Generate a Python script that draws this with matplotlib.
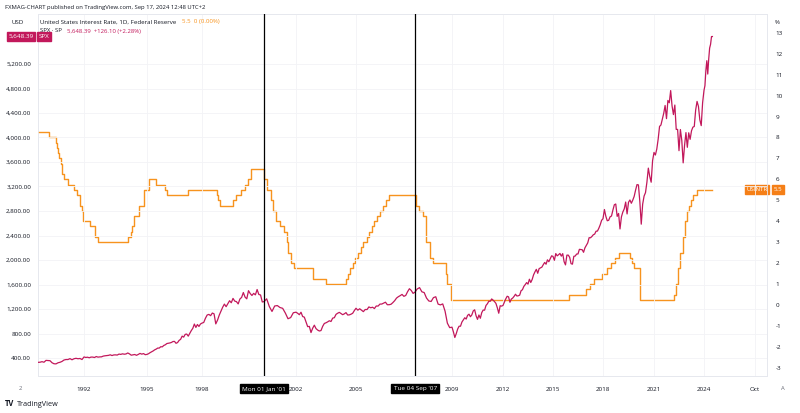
import numpy as np
import pandas as pd
import matplotlib
matplotlib.use("Agg")
import matplotlib.pyplot as plt
from matplotlib.transforms import blended_transform_factory

plt.rcParams["font.family"] = ["Open Sans", "DejaVu Sans"]

# S&P 500 monthly closes, Jan 1990 .. Aug 2024, plus last close Sep 17 2024
spx_close = [
    329, 331, 340, 331, 361, 358, 356, 323, 306, 304, 322, 330,          # 1990
    344, 367, 375, 375, 390, 371, 388, 395, 388, 392, 375, 417,          # 1991
    409, 413, 404, 415, 415, 408, 424, 414, 418, 419, 431, 436,          # 1992
    439, 443, 452, 440, 450, 451, 448, 464, 459, 468, 462, 466,          # 1993
    482, 467, 446, 451, 457, 444, 458, 475, 463, 472, 454, 459,          # 1994
    470, 487, 501, 515, 533, 545, 562, 562, 584, 582, 605, 616,          # 1995
    636, 641, 646, 654, 669, 671, 640, 652, 687, 705, 757, 741,          # 1996
    786, 791, 757, 801, 848, 885, 954, 899, 947, 915, 955, 970,          # 1997
    980, 1049, 1102, 1112, 1091, 1134, 1121, 957, 1017, 1099, 1164, 1229,  # 1998
    1280, 1238, 1286, 1335, 1302, 1373, 1329, 1320, 1283, 1363, 1389, 1469,  # 1999
    1394, 1366, 1499, 1452, 1421, 1455, 1431, 1518, 1437, 1429, 1315, 1320,  # 2000
    1366, 1240, 1160, 1249, 1256, 1224, 1211, 1134, 1041, 1060, 1139, 1148,  # 2001
    1130, 1107, 1147, 1077, 1067, 990, 912, 916, 815, 886, 936, 880,     # 2002
    856, 841, 848, 917, 964, 975, 990, 1008, 996, 1051, 1058, 1112,      # 2003
    1131, 1145, 1126, 1107, 1121, 1141, 1102, 1104, 1115, 1130, 1174, 1212,  # 2004
    1181, 1204, 1181, 1157, 1192, 1191, 1234, 1220, 1229, 1207, 1249, 1248,  # 2005
    1280, 1281, 1295, 1311, 1270, 1270, 1277, 1304, 1336, 1378, 1401, 1418,  # 2006
    1438, 1407, 1421, 1482, 1531, 1503, 1455, 1474, 1527, 1549, 1481, 1468,  # 2007
    1379, 1331, 1323, 1386, 1400, 1280, 1267, 1283, 1166, 969, 896, 903,     # 2008
    826, 735, 798, 873, 919, 919, 987, 1021, 1057, 1036, 1096, 1115,     # 2009
    1074, 1104, 1169, 1187, 1089, 1031, 1102, 1049, 1141, 1183, 1181, 1258,  # 2010
    1286, 1327, 1326, 1364, 1345, 1321, 1292, 1219, 1131, 1253, 1247, 1258,  # 2011
    1312, 1366, 1408, 1398, 1310, 1362, 1379, 1407, 1441, 1412, 1416, 1426,  # 2012
    1498, 1515, 1569, 1598, 1631, 1606, 1686, 1633, 1682, 1757, 1806, 1848,  # 2013
    1783, 1859, 1872, 1884, 1924, 1960, 1931, 2003, 1972, 2018, 2068, 2059,  # 2014
    1995, 2105, 2068, 2086, 2107, 2063, 2104, 1972, 1920, 2079, 2080, 2044,  # 2015
    1940, 1932, 2060, 2065, 2097, 2099, 2174, 2171, 2168, 2126, 2199, 2239,  # 2016
    2279, 2364, 2363, 2384, 2412, 2423, 2470, 2472, 2519, 2575, 2648, 2674,  # 2017
    2824, 2714, 2641, 2648, 2705, 2718, 2816, 2902, 2914, 2712, 2760, 2507,  # 2018
    2704, 2784, 2834, 2946, 2752, 2942, 2980, 2926, 2977, 3038, 3141, 3231,  # 2019
    3226, 2954, 2585, 2912, 3044, 3100, 3271, 3500, 3363, 3270, 3622, 3756,  # 2020
    3714, 3811, 3973, 4181, 4204, 4298, 4395, 4523, 4308, 4605, 4567, 4766,  # 2021
    4516, 4374, 4530, 4132, 4132, 3785, 4130, 3955, 3586, 3872, 4080, 3840,  # 2022
    4077, 3970, 4109, 4169, 4180, 4450, 4589, 4508, 4288, 4194, 4568, 4770,  # 2023
    4846, 5096, 5254, 5036, 5278, 5460, 5522, 5648,                      # 2024
    5648.39,
]
spx_last_date = "2024-09-17"

# US interest rate (Fed target, upper bound) change dates and levels
rate_dates = [
    "1990-01-01", "1990-07-13", "1990-10-29", "1990-11-13", "1990-12-07", "1990-12-19",
    "1991-01-09", "1991-02-01", "1991-03-08", "1991-04-30", "1991-08-06", "1991-09-13",
    "1991-10-31", "1991-11-06", "1991-12-06", "1991-12-20", "1992-04-09", "1992-07-02",
    "1992-09-04", "1994-02-04", "1994-03-22", "1994-04-18", "1994-05-17", "1994-08-16",
    "1994-11-15", "1995-02-01", "1995-07-06", "1995-12-19", "1996-01-31", "1997-03-25",
    "1998-09-29", "1998-10-15", "1998-11-17", "1999-06-30", "1999-08-24", "1999-11-16",
    "2000-02-02", "2000-03-21", "2000-05-16", "2001-01-03", "2001-01-31", "2001-03-20",
    "2001-04-18", "2001-05-15", "2001-06-27", "2001-08-21", "2001-09-17", "2001-10-02",
    "2001-11-06", "2001-12-11", "2002-11-06", "2003-06-25", "2004-06-30", "2004-08-10",
    "2004-09-21", "2004-11-10", "2004-12-14", "2005-02-02", "2005-03-22", "2005-05-03",
    "2005-06-30", "2005-08-09", "2005-09-20", "2005-11-01", "2005-12-13", "2006-01-31",
    "2006-03-28", "2006-05-10", "2006-06-29", "2007-09-18", "2007-10-31", "2007-12-11",
    "2008-01-22", "2008-01-30", "2008-03-18", "2008-04-30", "2008-10-08", "2008-10-29",
    "2008-12-16", "2015-12-16", "2016-12-14", "2017-03-15", "2017-06-14", "2017-12-13",
    "2018-03-21", "2018-06-13", "2018-09-26", "2018-12-19", "2019-07-31", "2019-09-18",
    "2019-10-30", "2020-03-03", "2020-03-15", "2022-03-16", "2022-05-04", "2022-06-15",
    "2022-07-27", "2022-09-21", "2022-11-02", "2022-12-14", "2023-02-01", "2023-03-22",
    "2023-05-03", "2023-07-26", "2024-09-17",
]
rate_values = [
    8.25, 8.0, 7.75, 7.5, 7.25, 7.0,
    6.75, 6.25, 6.0, 5.75, 5.5, 5.25,
    5.0, 4.75, 4.5, 4.0, 3.75, 3.25,
    3.0, 3.25, 3.5, 3.75, 4.25, 4.75,
    5.5, 6.0, 5.75, 5.5, 5.25, 5.5,
    5.25, 5.0, 4.75, 5.0, 5.25, 5.5,
    5.75, 6.0, 6.5, 6.0, 5.5, 5.0,
    4.5, 4.0, 3.75, 3.5, 3.0, 2.5,
    2.0, 1.75, 1.25, 1.0, 1.25, 1.5,
    1.75, 2.0, 2.25, 2.5, 2.75, 3.0,
    3.25, 3.5, 3.75, 4.0, 4.25, 4.5,
    4.75, 5.0, 5.25, 4.75, 4.5, 4.25,
    3.5, 3.0, 2.25, 2.0, 1.5, 1.0,
    0.25, 0.5, 0.75, 1.0, 1.25, 1.5,
    1.75, 2.0, 2.25, 2.5, 2.25, 2.0,
    1.75, 1.25, 0.25, 0.5, 1.0, 1.75,
    2.5, 3.25, 4.0, 4.5, 4.75, 5.0,
    5.25, 5.5, 5.5,
]

marker_dates = ["2001-01-01", "2007-09-04"]
marker_labels = ["Mon 01 Jan '01", "Tue 04 Sep '07"]

year_ticks = [1992, 1995, 1998, 2002, 2005, 2009, 2012, 2015, 2018, 2021, 2024]
left_ticks = np.arange(400, 5201, 400)
right_ticks = np.arange(-3, 14, 1)


def to_year(d):
    d = pd.to_datetime(d)
    days = 366 if d.is_leap_year else 365
    return d.year + (d.dayofyear - 1) / days


# TradingView bar-index time axis is not linear in calendar time
knot_years = [1990.0, 1992.0, 1995.0, 1998.0, 2001.0, 2002.0, 2005.0, 2007.67, 2009.0,
              2012.0, 2015.0, 2018.0, 2021.0, 2024.0, 2024.71, 2024.75, 2024.85]
knot_pos = [36, 84, 147, 202, 264, 296, 356, 415, 452,
            503, 553, 603, 654, 704, 712, 755, 767]


def fwd(x):
    return np.interp(x, knot_years, knot_pos)


def inv(p):
    return np.interp(p, knot_pos, knot_years)


spx_x = np.append(1990 + np.arange(1, len(spx_close)) / 12.0, to_year(spx_last_date))
rate_x = np.array([to_year(d) for d in rate_dates])

W, H = 800, 413
fig = plt.figure(figsize=(W / 100, H / 100), dpi=100)
fig.patch.set_facecolor("white")
L, R, T, B = 38, 767, 14, 376
ax = fig.add_axes([L / W, 1 - B / H, (R - L) / W, (B - T) / H])
ax.set_xscale("function", functions=(fwd, inv))
ax2 = ax.twinx()

spx_color = "#c2185b"
rate_color = "#f7931e"
grey = "#6a6d78"

ax2.step(rate_x, rate_values, where="post", color=rate_color, lw=1.0, zorder=3)
ax.plot(spx_x, spx_close, color=spx_color, lw=0.9, zorder=3)
ax.set_zorder(ax2.get_zorder() + 1)
ax.patch.set_visible(False)

ax.set_xlim(inv(L), inv(R))
ax.set_ylim(400 - (B - 358) / 0.06125, 400 + (358 - T) / 0.06125)
ax2.set_ylim((305 - B) / 20.94, (305 - T) / 20.94)

ax.set_xticks(year_ticks + [2024.75])
ax.set_xticklabels([str(y) for y in year_ticks] + ["Oct"])
ax.set_yticks(left_ticks)
ax.set_yticklabels([f"{v:,.2f}" for v in left_ticks])
ax2.set_yticks(right_ticks)
ax2.set_yticklabels([str(v) for v in right_ticks])

for a in (ax, ax2):
    a.tick_params(length=0, labelsize=4.5, colors="#131722")
    for s in a.spines.values():
        s.set_color("#e6e8ee")
        s.set_linewidth(0.6)
ax.tick_params(axis="x", pad=8)
ax.tick_params(axis="y", pad=5)
ax2.tick_params(axis="y", pad=6)
ax.grid(True, color="#f2f3f6", lw=0.6, zorder=0)

# crosshair-style date markers
for d, lab in zip(marker_dates, marker_labels):
    xv = to_year(d)
    ax.axvline(xv, color="black", lw=0.9, zorder=5)
    ax.text(xv, -0.035, lab, transform=blended_transform_factory(ax.transData, ax.transAxes),
            ha="center", va="center", fontsize=4.6, color="white", zorder=10, clip_on=False,
            bbox=dict(boxstyle="square,pad=0.35", fc="black", ec="black"))

# price labels on the scales
tl = blended_transform_factory(fig.transFigure, ax.transData)
ax.text(21 / W, spx_close[-1], "5,648.39", transform=tl, ha="center", va="center",
        fontsize=4.5, color="white", clip_on=False,
        bbox=dict(boxstyle="square,pad=0.3", fc=spx_color, ec=spx_color))
ax.text(44 / W, spx_close[-1], "SPX", transform=tl, ha="center", va="center",
        fontsize=4.5, color="white", clip_on=False,
        bbox=dict(boxstyle="square,pad=0.3", fc=spx_color, ec=spx_color))
tr = blended_transform_factory(fig.transFigure, ax2.transData)
ax2.text(757 / W, rate_values[-1], "USINTR", transform=tr, ha="center", va="center",
         fontsize=4.4, color="white", clip_on=False,
         bbox=dict(boxstyle="square,pad=0.3", fc="#f57f17", ec="#f57f17"))
ax2.text(778 / W, rate_values[-1], "5.5", transform=tr, ha="center", va="center",
         fontsize=4.4, color="white", clip_on=False,
         bbox=dict(boxstyle="square,pad=0.3", fc="#f57f17", ec="#f57f17"))

# header texts
fig.text(5 / W, 1 - 8 / H, "FXMAG-CHART published on TradingView.com, Sep 17, 2024 12:48 UTC+2",
         fontsize=4.25, color="#131722", va="center")
fig.text(12 / W, 1 - 22 / H, "USD", fontsize=4.4, color="#131722", va="center")
fig.text(775 / W, 1 - 22 / H, "%", fontsize=4.4, color="#131722", va="center")
fig.text(40 / W, 1 - 22 / H, "United States Interest Rate, 1D, Federal Reserve",
         fontsize=4.4, color="#131722", va="center")
fig.text(182 / W, 1 - 22 / H, "5.5  0 (0.00%)", fontsize=4.4, color=rate_color, va="center")
fig.text(40 / W, 1 - 31 / H, "SPX · SP", fontsize=4.3, color="#131722", va="center")
fig.text(67 / W, 1 - 31 / H, "5,648.39  +126.10 (+2.28%)", fontsize=4.3, color=spx_color,
         va="center")
fig.text(20 / W, 1 - 388 / H, "2", fontsize=4.2, color=grey, va="center", ha="center")
fig.text(783 / W, 1 - 388 / H, "A", fontsize=4.2, color=grey, va="center", ha="center")
fig.text(5 / W, 1 - 404 / H, "TV", fontsize=5.5, color="#131722", va="center",
         fontweight="bold")
fig.text(17 / W, 1 - 404 / H, "TradingView", fontsize=5.2, color="#131722", va="center")

fig.savefig("out.png", dpi=100, facecolor="white")
